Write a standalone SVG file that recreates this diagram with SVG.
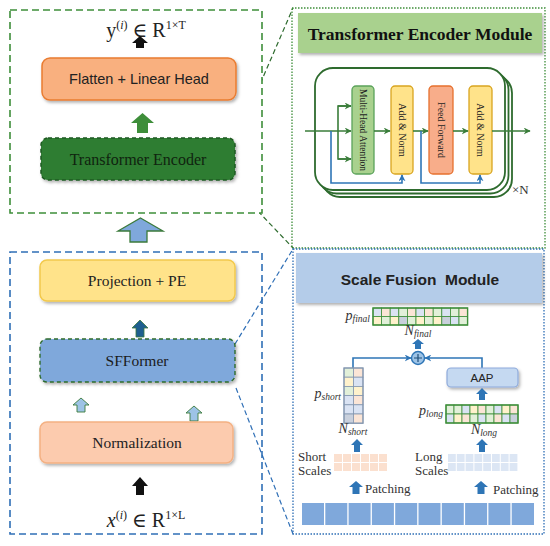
<svg xmlns="http://www.w3.org/2000/svg" width="550" height="546" viewBox="0 0 550 546">
<defs>
<filter id="sh" x="-10%" y="-20%" width="130%" height="150%"><feDropShadow dx="1.5" dy="2" stdDeviation="1.5" flood-color="#000" flood-opacity="0.3"/></filter>
<marker id="ga" viewBox="0 0 10 10" refX="9" refY="5" markerWidth="7" markerHeight="7" orient="auto" markerUnits="userSpaceOnUse"><path d="M0,0 L10,5 L0,10 L3,5 Z" fill="#3A7D3A"/></marker>
<marker id="ba" viewBox="0 0 10 10" refX="9" refY="5" markerWidth="7" markerHeight="7" orient="auto" markerUnits="userSpaceOnUse"><path d="M0,0 L10,5 L0,10 L3,5 Z" fill="#2E75B6"/></marker>
</defs>
<style>
.serif{font-family:"Liberation Serif","DejaVu Serif",serif;}
.sans{font-family:"Liberation Sans",Arial,sans-serif;}
.gl{stroke:#3A7D3A;stroke-width:1.6;fill:none;}
.bl{stroke:#2E75B6;stroke-width:1.6;fill:none;}
.barrow{fill:#2E75B6;}
.cell{stroke:#3E8E3A;stroke-width:0.8;}
.cellb{stroke:#8497B0;stroke-width:0.8;}
.lab{font-family:"Liberation Serif","DejaVu Serif",serif;font-style:italic;fill:#333;}
.sm{font-family:"Liberation Serif","DejaVu Serif",serif;font-size:13px;fill:#333;}
.pre{white-space:pre;}
</style>
<rect width="550" height="546" fill="#fff"/>

<!-- connectors (zoom lines) -->
<g id="connectors">
<line x1="235" y1="142" x2="293" y2="8" stroke="#2E6B2E" stroke-width="1.2" stroke-dasharray="5,3"/>
<line x1="236" y1="188" x2="293" y2="248" stroke="#2E6B2E" stroke-width="1.2" stroke-dasharray="5,3"/>
<line x1="235" y1="344" x2="293" y2="249" stroke="#2F6FB6" stroke-width="1.2" stroke-dasharray="5,3"/>
<line x1="236" y1="388" x2="293" y2="534" stroke="#2F6FB6" stroke-width="1.2" stroke-dasharray="5,3"/>
<!-- big arrow between left panels -->
<path d="M140.5,218 L163,231 L147,231 L147,242 L130,242 L130,231 L118,231 Z" fill="#7FA8DB" stroke="#3B7A3B" stroke-width="1.3"/>
</g>

<!-- Left top panel -->
<g id="panel-output">
<rect x="10" y="10" width="252" height="203" fill="#fff" stroke="#3E8E3A" stroke-width="1.6" stroke-dasharray="7,4"/>
<text x="146" y="37" text-anchor="middle" class="serif" font-size="20" fill="#222">y<tspan font-size="12" dy="-8">(<tspan font-style="italic">i</tspan>)</tspan><tspan dy="8"> ∈ R</tspan><tspan font-size="12" dy="-8">1×T</tspan></text>
<path d="M140,36 L148,43 L144,43 L144,48 L136,48 L136,43 L132,43 Z" fill="#111"/>
</g>
<g id="flatten">
<rect x="42" y="58" width="194" height="42" rx="8" fill="#F9B07F" stroke="#E97C30" stroke-width="1.5" filter="url(#sh)"/>
<text x="139" y="84" text-anchor="middle" class="sans" font-size="14.5" fill="#222">Flatten + Linear Head</text>
</g>
<path d="M142.5,113 L154,123 L148,123 L148,133 L137,133 L137,123 L131,123 Z" fill="#3E8E3A"/>
<g id="transformer-encoder">
<rect x="41" y="138" width="194" height="42" rx="7" fill="#2E7D32" stroke="#1E5A22" stroke-width="1.5" stroke-dasharray="4,3" filter="url(#sh)"/>
<text x="138" y="165" text-anchor="middle" class="serif" font-size="16" fill="#10240F">Transformer Encoder</text>
</g>

<!-- Left bottom panel -->
<g id="panel-input">
<rect x="10" y="252" width="252" height="282" fill="none" stroke="#2F6FB6" stroke-width="1.6" stroke-dasharray="7,4"/>
<text x="146" y="527" text-anchor="middle" class="serif" font-size="20" fill="#222"><tspan font-style="italic">x</tspan><tspan font-size="12" dy="-8">(<tspan font-style="italic">i</tspan>)</tspan><tspan dy="8"> ∈ R</tspan><tspan font-size="12" dy="-8">1×L</tspan></text>
<path d="M140,477 L148,486 L144,486 L144,495 L136,495 L136,486 L132,486 Z" fill="#111"/>
</g>
<g id="projection">
<rect x="40" y="260" width="195" height="41" rx="7" fill="#FFE38A" stroke="#F2C94C" stroke-width="1.5" filter="url(#sh)"/>
<text x="137" y="286" text-anchor="middle" class="serif" font-size="15.5" fill="#222">Projection + PE</text>
</g>
<path d="M140,320 L148,328 L144,328 L144,337 L136,337 L136,328 L132,328 Z" fill="#1F5F8F" stroke="#3B7A3B" stroke-width="0.8"/>
<g id="sfformer">
<rect x="40" y="339" width="195" height="43" rx="7" fill="#7FA8DB" stroke="#2E6B2E" stroke-width="1.4" stroke-dasharray="4,3" filter="url(#sh)"/>
<text x="137" y="366" text-anchor="middle" class="serif" font-size="15.5" fill="#1A1A1A">SFFormer</text>
</g>
<path d="M81,398 L89,405 L85,405 L85,412 L77,412 L77,405 L73,405 Z" fill="#9DC3E6" stroke="#3B7A3B" stroke-width="0.9"/>
<path d="M194,406 L202,413 L198,413 L198,421 L190,421 L190,413 L186,413 Z" fill="#9DC3E6" stroke="#3B7A3B" stroke-width="0.9"/>
<g id="normalization">
<rect x="40" y="422" width="193" height="41" rx="7" fill="#FCCBAE" stroke="#F4B183" stroke-width="1.5" filter="url(#sh)"/>
<text x="137" y="448" text-anchor="middle" class="serif" font-size="15.5" fill="#222">Normalization</text>
</g>

<!-- Right top panel: Transformer Encoder Module -->
<g id="encoder-module">
<rect x="292" y="8" width="253" height="240" fill="none" stroke="#3E8E3A" stroke-width="1.3" stroke-dasharray="1.5,1.5"/>
<rect x="298" y="13" width="244" height="40" fill="#A9D18E" filter="url(#sh)"/>
<text x="420" y="40" text-anchor="middle" class="serif" font-size="17.5" font-weight="bold" fill="#111">Transformer Encoder Module</text>
<rect x="322" y="75" width="190" height="122" rx="18" fill="#fff" stroke="#2E6B2E" stroke-width="1.8"/>
<rect x="318.5" y="71.5" width="190" height="122" rx="18" fill="#fff" stroke="#2E6B2E" stroke-width="1.8"/>
<rect x="315" y="68" width="190" height="122" rx="18" fill="#fff" stroke="#2E6B2E" stroke-width="1.8"/>
<text x="512" y="194" class="serif" font-size="13" fill="#333">×N</text>
</g>
<g id="mha">
<rect x="352" y="86" width="22" height="88" rx="4" fill="#A9D18E" stroke="#5BA35B" stroke-width="1.3"/>
<text transform="translate(360,130) rotate(90)" text-anchor="middle" class="serif" font-size="9.5" fill="#222">Multi-Head Attention</text>
</g>
<g id="addnorm1">
<rect x="391" y="86" width="22" height="88" rx="4" fill="#FFE38A" stroke="#D9A520" stroke-width="1.3"/>
<text transform="translate(399,130) rotate(90)" text-anchor="middle" class="serif" font-size="10" fill="#222">Add &amp; Norm</text>
</g>
<g id="feedforward">
<rect x="429" y="86" width="24" height="88" rx="4" fill="#F8AD8A" stroke="#E6702E" stroke-width="1.3"/>
<text transform="translate(438,130) rotate(90)" text-anchor="middle" class="serif" font-size="10" fill="#222">Feed Forward</text>
</g>
<g id="addnorm2">
<rect x="469" y="86" width="23" height="88" rx="4" fill="#FFE38A" stroke="#D9A520" stroke-width="1.3"/>
<text transform="translate(477,130) rotate(90)" text-anchor="middle" class="serif" font-size="10" fill="#222">Add &amp; Norm</text>
</g>
<g id="encoder-connectors">
<line x1="305" y1="131" x2="351" y2="131" class="gl" marker-end="url(#ga)"/>
<polyline points="351,106 338,106 338,159 351,159" class="gl"/>
<line x1="338" y1="106" x2="351" y2="106" class="gl" marker-end="url(#ga)"/>
<line x1="338" y1="159" x2="351" y2="159" class="gl" marker-end="url(#ga)"/>
<line x1="374" y1="131" x2="390" y2="131" class="gl" marker-end="url(#ga)"/>
<line x1="413" y1="131" x2="428" y2="131" class="gl" marker-end="url(#ga)"/>
<line x1="453" y1="131" x2="468" y2="131" class="gl" marker-end="url(#ga)"/>
<line x1="492" y1="131" x2="530" y2="131" class="gl" marker-end="url(#ga)"/>
<polyline points="331,131 331,183 402,183 402,175" class="bl" marker-end="url(#ba)"/>
<polyline points="421,131 421,183 480,183 480,175" class="bl" marker-end="url(#ba)"/>
</g>

<!-- Right bottom panel: Scale Fusion Module -->
<g id="scale-fusion-module">
<rect x="293" y="249" width="251" height="285" fill="none" stroke="#2F6FB6" stroke-width="1.3" stroke-dasharray="1.5,1.5"/>
<rect x="296" y="253" width="246" height="50" fill="#B4CCE9" filter="url(#sh)"/>
<text x="420" y="285" text-anchor="middle" class="sans pre" font-size="15.5" font-weight="bold" fill="#222" xml:space="preserve">Scale Fusion  Module</text>
</g>

<g id="p-final">
<text x="370" y="320" text-anchor="end" class="lab" font-size="14">p<tspan font-size="9.5" dy="2">final</tspan></text>
<g class="cell">
<rect x="373" y="308" width="8.6" height="8.5" fill="#DAE3F3"/><rect x="381.6" y="308" width="8.6" height="8.5" fill="#FBE5D6"/><rect x="390.2" y="308" width="8.6" height="8.5" fill="#DAE3F3"/><rect x="398.8" y="308" width="8.6" height="8.5" fill="#E2F0D9"/><rect x="407.4" y="308" width="8.6" height="8.5" fill="#FBE5D6"/><rect x="416" y="308" width="8.6" height="8.5" fill="#DAE3F3"/><rect x="424.6" y="308" width="8.6" height="8.5" fill="#FBE5D6"/><rect x="433.2" y="308" width="8.6" height="8.5" fill="#E2F0D9"/><rect x="441.8" y="308" width="8.6" height="8.5" fill="#DAE3F3"/><rect x="450.4" y="308" width="8.6" height="8.5" fill="#E2F0D9"/><rect x="459" y="308" width="8.6" height="8.5" fill="#FBE5D6"/>
<rect x="373" y="316.5" width="8.6" height="8.5" fill="#FFF2CC"/><rect x="381.6" y="316.5" width="8.6" height="8.5" fill="#E2F0D9"/><rect x="390.2" y="316.5" width="8.6" height="8.5" fill="#FFF2CC"/><rect x="398.8" y="316.5" width="8.6" height="8.5" fill="#C9D0DC"/><rect x="407.4" y="316.5" width="8.6" height="8.5" fill="#E2F0D9"/><rect x="416" y="316.5" width="8.6" height="8.5" fill="#FFF2CC"/><rect x="424.6" y="316.5" width="8.6" height="8.5" fill="#E2F0D9"/><rect x="433.2" y="316.5" width="8.6" height="8.5" fill="#FFF2CC"/><rect x="441.8" y="316.5" width="8.6" height="8.5" fill="#C9D0DC"/><rect x="450.4" y="316.5" width="8.6" height="8.5" fill="#DAE3F3"/><rect x="459" y="316.5" width="8.6" height="8.5" fill="#E2F0D9"/>
</g>
<rect x="373" y="308" width="94.6" height="17" fill="none" stroke="#3E8E3A" stroke-width="1.4"/>
<text x="418" y="335" text-anchor="middle" class="lab" font-size="14">N<tspan font-size="9.5" dy="2">final</tspan></text>
</g>
<path d="M418,339 L424,344 L421,344 L421,349 L415,349 L415,344 L412,344 Z" class="barrow"/>

<g id="fusion-plus">
<circle cx="418" cy="358" r="6.5" fill="#9DC3E6" stroke="#2E75B6" stroke-width="1.4"/>
<path d="M418,354 V362 M414,358 H422" stroke="#1F4E79" stroke-width="1.2"/>
</g>
<g id="fusion-connectors">
<polyline points="353,368 353,358 411,358" class="bl" marker-end="url(#ba)"/>
<polyline points="482,368 482,358 425,358" class="bl" marker-end="url(#ba)"/>
</g>

<g id="aap">
<rect x="447" y="368" width="71" height="19" rx="4" fill="#C5D9F1" stroke="#8EAADB" stroke-width="1.2" filter="url(#sh)"/>
<text x="482" y="382" text-anchor="middle" class="sans" font-size="11.5" fill="#222">AAP</text>
</g>
<path d="M482,388 L488,394 L485,394 L485,400 L479,400 L479,394 L476,394 Z" class="barrow"/>

<g id="p-short">
<text x="341" y="398" text-anchor="end" class="lab" font-size="14">p<tspan font-size="9.5" dy="2">short</tspan></text>
<g class="cellb">
<rect x="344" y="368" width="9.5" height="9.2" fill="#E2F0D9"/><rect x="353.5" y="368" width="9.5" height="9.2" fill="#FBE5D6"/>
<rect x="344" y="377.2" width="9.5" height="9.2" fill="#FFF2CC"/><rect x="353.5" y="377.2" width="9.5" height="9.2" fill="#DAE3F3"/>
<rect x="344" y="386.4" width="9.5" height="9.2" fill="#E2F0D9"/><rect x="353.5" y="386.4" width="9.5" height="9.2" fill="#FFF2CC"/>
<rect x="344" y="395.6" width="9.5" height="9.2" fill="#DAE3F3"/><rect x="353.5" y="395.6" width="9.5" height="9.2" fill="#FBE5D6"/>
<rect x="344" y="404.8" width="9.5" height="9.2" fill="#DAE3F3"/><rect x="353.5" y="404.8" width="9.5" height="9.2" fill="#DAE3F3"/>
<rect x="344" y="414" width="9.5" height="9.2" fill="#C9D0DC"/><rect x="353.5" y="414" width="9.5" height="9.2" fill="#FBE5D6"/>
</g>
<rect x="344" y="368" width="19" height="55.2" fill="none" stroke="#8497B0" stroke-width="1.2"/>
<text x="353" y="433" text-anchor="middle" class="lab" font-size="14">N<tspan font-size="9.5" dy="2">short</tspan></text>
</g>
<path d="M357,439 L363,445 L360,445 L360,452 L354,452 L354,445 L351,445 Z" class="barrow"/>

<g id="p-long">
<text x="443" y="415" text-anchor="end" class="lab" font-size="14">p<tspan font-size="9.5" dy="2">long</tspan></text>
<g class="cell">
<rect x="446" y="405" width="8" height="9" fill="#E2F0D9"/><rect x="454" y="405" width="8" height="9" fill="#E2F0D9"/><rect x="462" y="405" width="8" height="9" fill="#DAE3F3"/><rect x="470" y="405" width="8" height="9" fill="#FFF2CC"/><rect x="478" y="405" width="8" height="9" fill="#FBE5D6"/><rect x="486" y="405" width="8" height="9" fill="#E2F0D9"/><rect x="494" y="405" width="8" height="9" fill="#DAE3F3"/><rect x="502" y="405" width="8" height="9" fill="#FFF2CC"/><rect x="510" y="405" width="8" height="9" fill="#FBE5D6"/>
<rect x="446" y="414" width="8" height="9" fill="#DAE3F3"/><rect x="454" y="414" width="8" height="9" fill="#FFF2CC"/><rect x="462" y="414" width="8" height="9" fill="#FBE5D6"/><rect x="470" y="414" width="8" height="9" fill="#E2F0D9"/><rect x="478" y="414" width="8" height="9" fill="#DAE3F3"/><rect x="486" y="414" width="8" height="9" fill="#E2F0D9"/><rect x="494" y="414" width="8" height="9" fill="#FBE5D6"/><rect x="502" y="414" width="8" height="9" fill="#DAE3F3"/><rect x="510" y="414" width="8" height="9" fill="#C9D0DC"/>
</g>
<rect x="446" y="405" width="72" height="18" fill="none" stroke="#3E8E3A" stroke-width="1.4"/>
<text x="484" y="434" text-anchor="middle" class="lab" font-size="14">N<tspan font-size="9.5" dy="2">long</tspan></text>
</g>
<path d="M482,439 L488,445 L485,445 L485,452 L479,452 L479,445 L476,445 Z" class="barrow"/>

<g id="short-scales">
<text x="298" y="461" class="sm">Short</text>
<text x="298" y="475" class="sm">Scales</text>
<g fill="#FBE0CF">
<rect x="334" y="454" width="8" height="8"/><rect x="343" y="454" width="8" height="8"/><rect x="352" y="454" width="8" height="8"/><rect x="361" y="454" width="8" height="8"/><rect x="370" y="454" width="8" height="8"/><rect x="379" y="454" width="8" height="8"/>
<rect x="334" y="463" width="8" height="8"/><rect x="343" y="463" width="8" height="8"/><rect x="352" y="463" width="8" height="8"/><rect x="361" y="463" width="8" height="8"/><rect x="370" y="463" width="8" height="8"/><rect x="379" y="463" width="8" height="8"/>
</g>
</g>
<g id="long-scales">
<text x="415" y="461" class="sm">Long</text>
<text x="415" y="475" class="sm">Scales</text>
<g fill="#DCE6F4">
<rect x="448" y="454" width="7.8" height="8"/><rect x="456.8" y="454" width="7.8" height="8"/><rect x="465.6" y="454" width="7.8" height="8"/><rect x="474.4" y="454" width="7.8" height="8"/><rect x="483.2" y="454" width="7.8" height="8"/><rect x="492" y="454" width="7.8" height="8"/><rect x="500.8" y="454" width="7.8" height="8"/><rect x="509.6" y="454" width="7.8" height="8"/>
<rect x="448" y="463" width="7.8" height="8"/><rect x="456.8" y="463" width="7.8" height="8"/><rect x="465.6" y="463" width="7.8" height="8"/><rect x="474.4" y="463" width="7.8" height="8"/><rect x="483.2" y="463" width="7.8" height="8"/><rect x="492" y="463" width="7.8" height="8"/><rect x="500.8" y="463" width="7.8" height="8"/><rect x="509.6" y="463" width="7.8" height="8"/>
</g>
</g>

<g id="patching">
<path d="M356,481 L363,487 L359.5,487 L359.5,494 L352.5,494 L352.5,487 L349,487 Z" class="barrow"/>
<text x="365" y="493" class="sm">Patching</text>
<path d="M481,481 L488,487 L484.5,487 L484.5,494 L477.5,494 L477.5,487 L474,487 Z" class="barrow"/>
<text x="493" y="494" class="sm">Patching</text>
</g>

<g id="input-series" fill="#7FA8DB">
<rect x="302" y="503" width="22" height="22"/><rect x="325.3" y="503" width="22" height="22"/><rect x="348.6" y="503" width="22" height="22"/><rect x="371.9" y="503" width="22" height="22"/><rect x="395.2" y="503" width="22" height="22"/><rect x="418.5" y="503" width="22" height="22"/><rect x="441.8" y="503" width="22" height="22"/><rect x="465.1" y="503" width="22" height="22"/><rect x="488.4" y="503" width="22" height="22"/><rect x="511.7" y="503" width="22.3" height="22"/>
</g>
</svg>
